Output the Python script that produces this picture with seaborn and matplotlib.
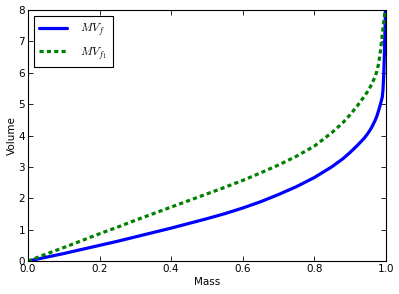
import matplotlib
matplotlib.use("Agg")
import matplotlib.pyplot as plt
import seaborn as sns

# valores
mass = [0.0, 0.05, 0.1, 0.15, 0.2, 0.25, 0.3, 0.35, 0.4, 0.45, 0.5, 0.55,
        0.6, 0.65, 0.7, 0.75, 0.8, 0.85, 0.88, 0.9, 0.92, 0.94, 0.95, 0.96,
        0.97, 0.975, 0.98, 0.985, 0.99, 0.992, 0.994, 0.996, 0.998, 1.0]
mv_f = [0.0, 0.12, 0.24, 0.37, 0.50, 0.63, 0.77, 0.91, 1.05, 1.20, 1.35, 1.51,
        1.69, 1.89, 2.12, 2.37, 2.66, 3.01, 3.26, 3.46, 3.68, 3.92, 4.07, 4.25,
        4.48, 4.62, 4.80, 5.00, 5.22, 5.45, 5.90, 6.60, 7.50, 8.60]
mv_f1 = [0.0, 0.22, 0.43, 0.65, 0.87, 1.08, 1.30, 1.51, 1.72, 1.93, 2.14, 2.35,
         2.57, 2.81, 3.06, 3.34, 3.66, 4.10, 4.41, 4.66, 4.94, 5.25, 5.42, 5.62,
         5.88, 6.05, 6.30, 6.70, 7.20, 7.40, 7.60, 7.80, 8.00, 8.30]

sns.set_style("white")
plt.rcParams["font.family"] = ["DejaVu Sans"]
plt.rcParams["mathtext.fontset"] = "cm"
plt.rcParams["xtick.direction"] = "in"
plt.rcParams["ytick.direction"] = "in"
plt.rcParams["text.color"] = "black"
plt.rcParams["axes.labelcolor"] = "black"
plt.rcParams["xtick.color"] = "black"
plt.rcParams["ytick.color"] = "black"

fig = plt.figure(figsize=(3.99, 2.94), dpi=100)
ax = fig.add_axes([0.070, 0.112, 0.897, 0.854])

sns.lineplot(x=mass, y=mv_f, ax=ax, color="blue", lw=2.3,
             label=r"$MV_f$", sort=False)
sns.lineplot(x=mass, y=mv_f1, ax=ax, color="green", lw=2.3,
             linestyle=(0, (1.3, 1.0)), label=r"$MV_{f_1}$", sort=False)

ax.set_xlim(0, 1)
ax.set_ylim(0, 8)
ax.set_xticks([0.0, 0.2, 0.4, 0.6, 0.8, 1.0])
ax.set_yticks(range(0, 9))
ax.tick_params(labelsize=7.5, length=3.5, width=0.6, pad=2,
               top=True, right=True, bottom=True, left=True)
for s in ax.spines.values():
    s.set_color("black")
    s.set_linewidth(0.8)

ax.set_xlabel("Mass", fontsize=7.5, labelpad=2)
ax.set_ylabel("Volume", fontsize=7.5, labelpad=1)

leg = ax.legend(loc="upper left", fontsize=8.5, fancybox=False, framealpha=1,
                edgecolor="black", handlelength=2.4, labelspacing=0.6,
                borderpad=0.45, handletextpad=1.1, borderaxespad=0.5)
leg.get_frame().set_linewidth(0.8)

fig.savefig("out.png", dpi=100)
